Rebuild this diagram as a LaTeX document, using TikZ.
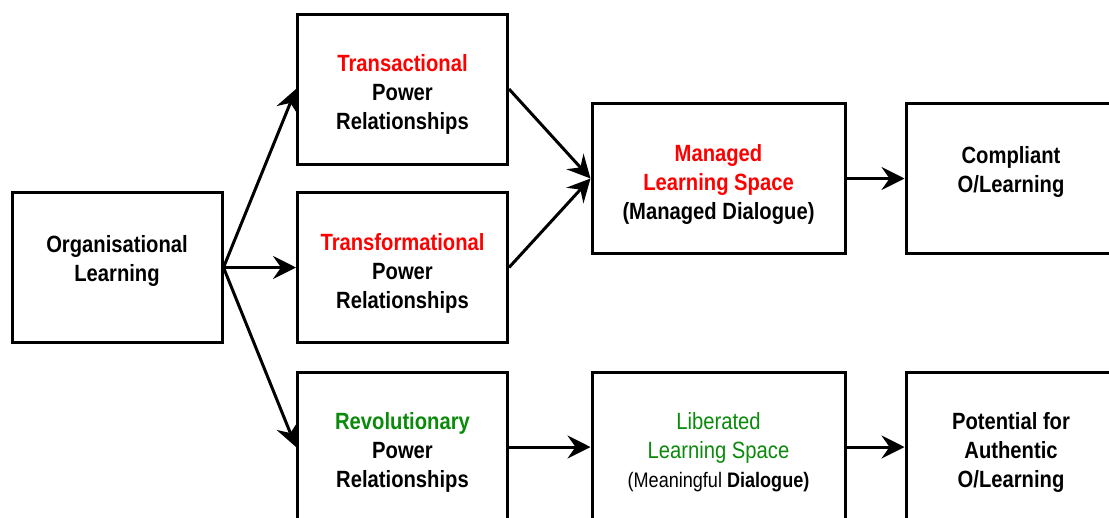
\documentclass[tikz,border=0pt]{standalone}
\usepackage{fontspec}
\setmainfont{Liberation Sans}[FakeStretch=0.86]
\usetikzlibrary{arrows.meta}
\definecolor{hotred}{HTML}{FF0000}
\definecolor{freegreen}{HTML}{0A8A0A}
\newcommand{\topgap}{\rule{0pt}{28pt}}
\tikzstyle{stage} = [rectangle, draw=black, line width=3pt, minimum width=210pt, minimum height=150pt, inner sep=2pt, align=center,
    font=\fontsize{23.5}{29}\selectfont\bfseries]
\tikzstyle{flow} = [line width=3pt, -{Stealth[length=23pt,width=23pt,inset=8pt]}]

\begin{document}
\begin{tikzpicture}[x=1pt,y=-1pt]
                        \useasboundingbox (0,0) rectangle (1109,517);
                        \node[stage] (org) at (117,267.5) {\topgap Organisational \\ Learning \\ ~};
                        \node[stage] (trans) at (402.5,89) {\topgap\textcolor{hotred}{Transactional} \\ Power \\ Relationships};
                        \node[stage] (transf) at (402.5,267.5) {\topgap\textcolor{hotred}{Transformational} \\ Power \\ Relationships};
                        \node[stage] (revol) at (402.5,447) {\topgap\textcolor{freegreen}{Revolutionary} \\ Power \\ Relationships};
                        \node[stage, minimum width=253pt] (managed) at (718.5,178.5)
                            {\topgap\textcolor{hotred}{Managed} \\ \textcolor{hotred}{Learning Space} \\ (Managed Dialogue)};
                        \node[stage, minimum width=253pt] (liberated) at (718.5,447)
                            {\topgap\mdseries\textcolor{freegreen}{Liberated} \\ \mdseries\textcolor{freegreen}{Learning Space} \\
                            \fontsize{21}{26}\selectfont\mdseries(Meaningful \textbf{Dialogue)}};
                        \node[stage] (compliant) at (1011,178.5) {\topgap Compliant \\ O/Learning \\ ~};
                        \node[stage] (potential) at (1011,447) {\topgap Potential for \\ Authentic \\ O/Learning};
                        % connectors
                        \draw[flow] (org.east) -- (trans.west);
                        \draw[flow] (org.east) -- (transf.west);
                        \draw[flow] (org.east) -- (revol.west);
                        \draw[flow] (trans.east) -- (managed.west);
                        \draw[flow] (transf.east) -- (managed.west);
                        \draw[flow] (managed) -- (compliant);
                        \draw[flow] (revol) -- (liberated);
                        \draw[flow] (liberated) -- (potential);
                    \end{tikzpicture}
\end{document}
